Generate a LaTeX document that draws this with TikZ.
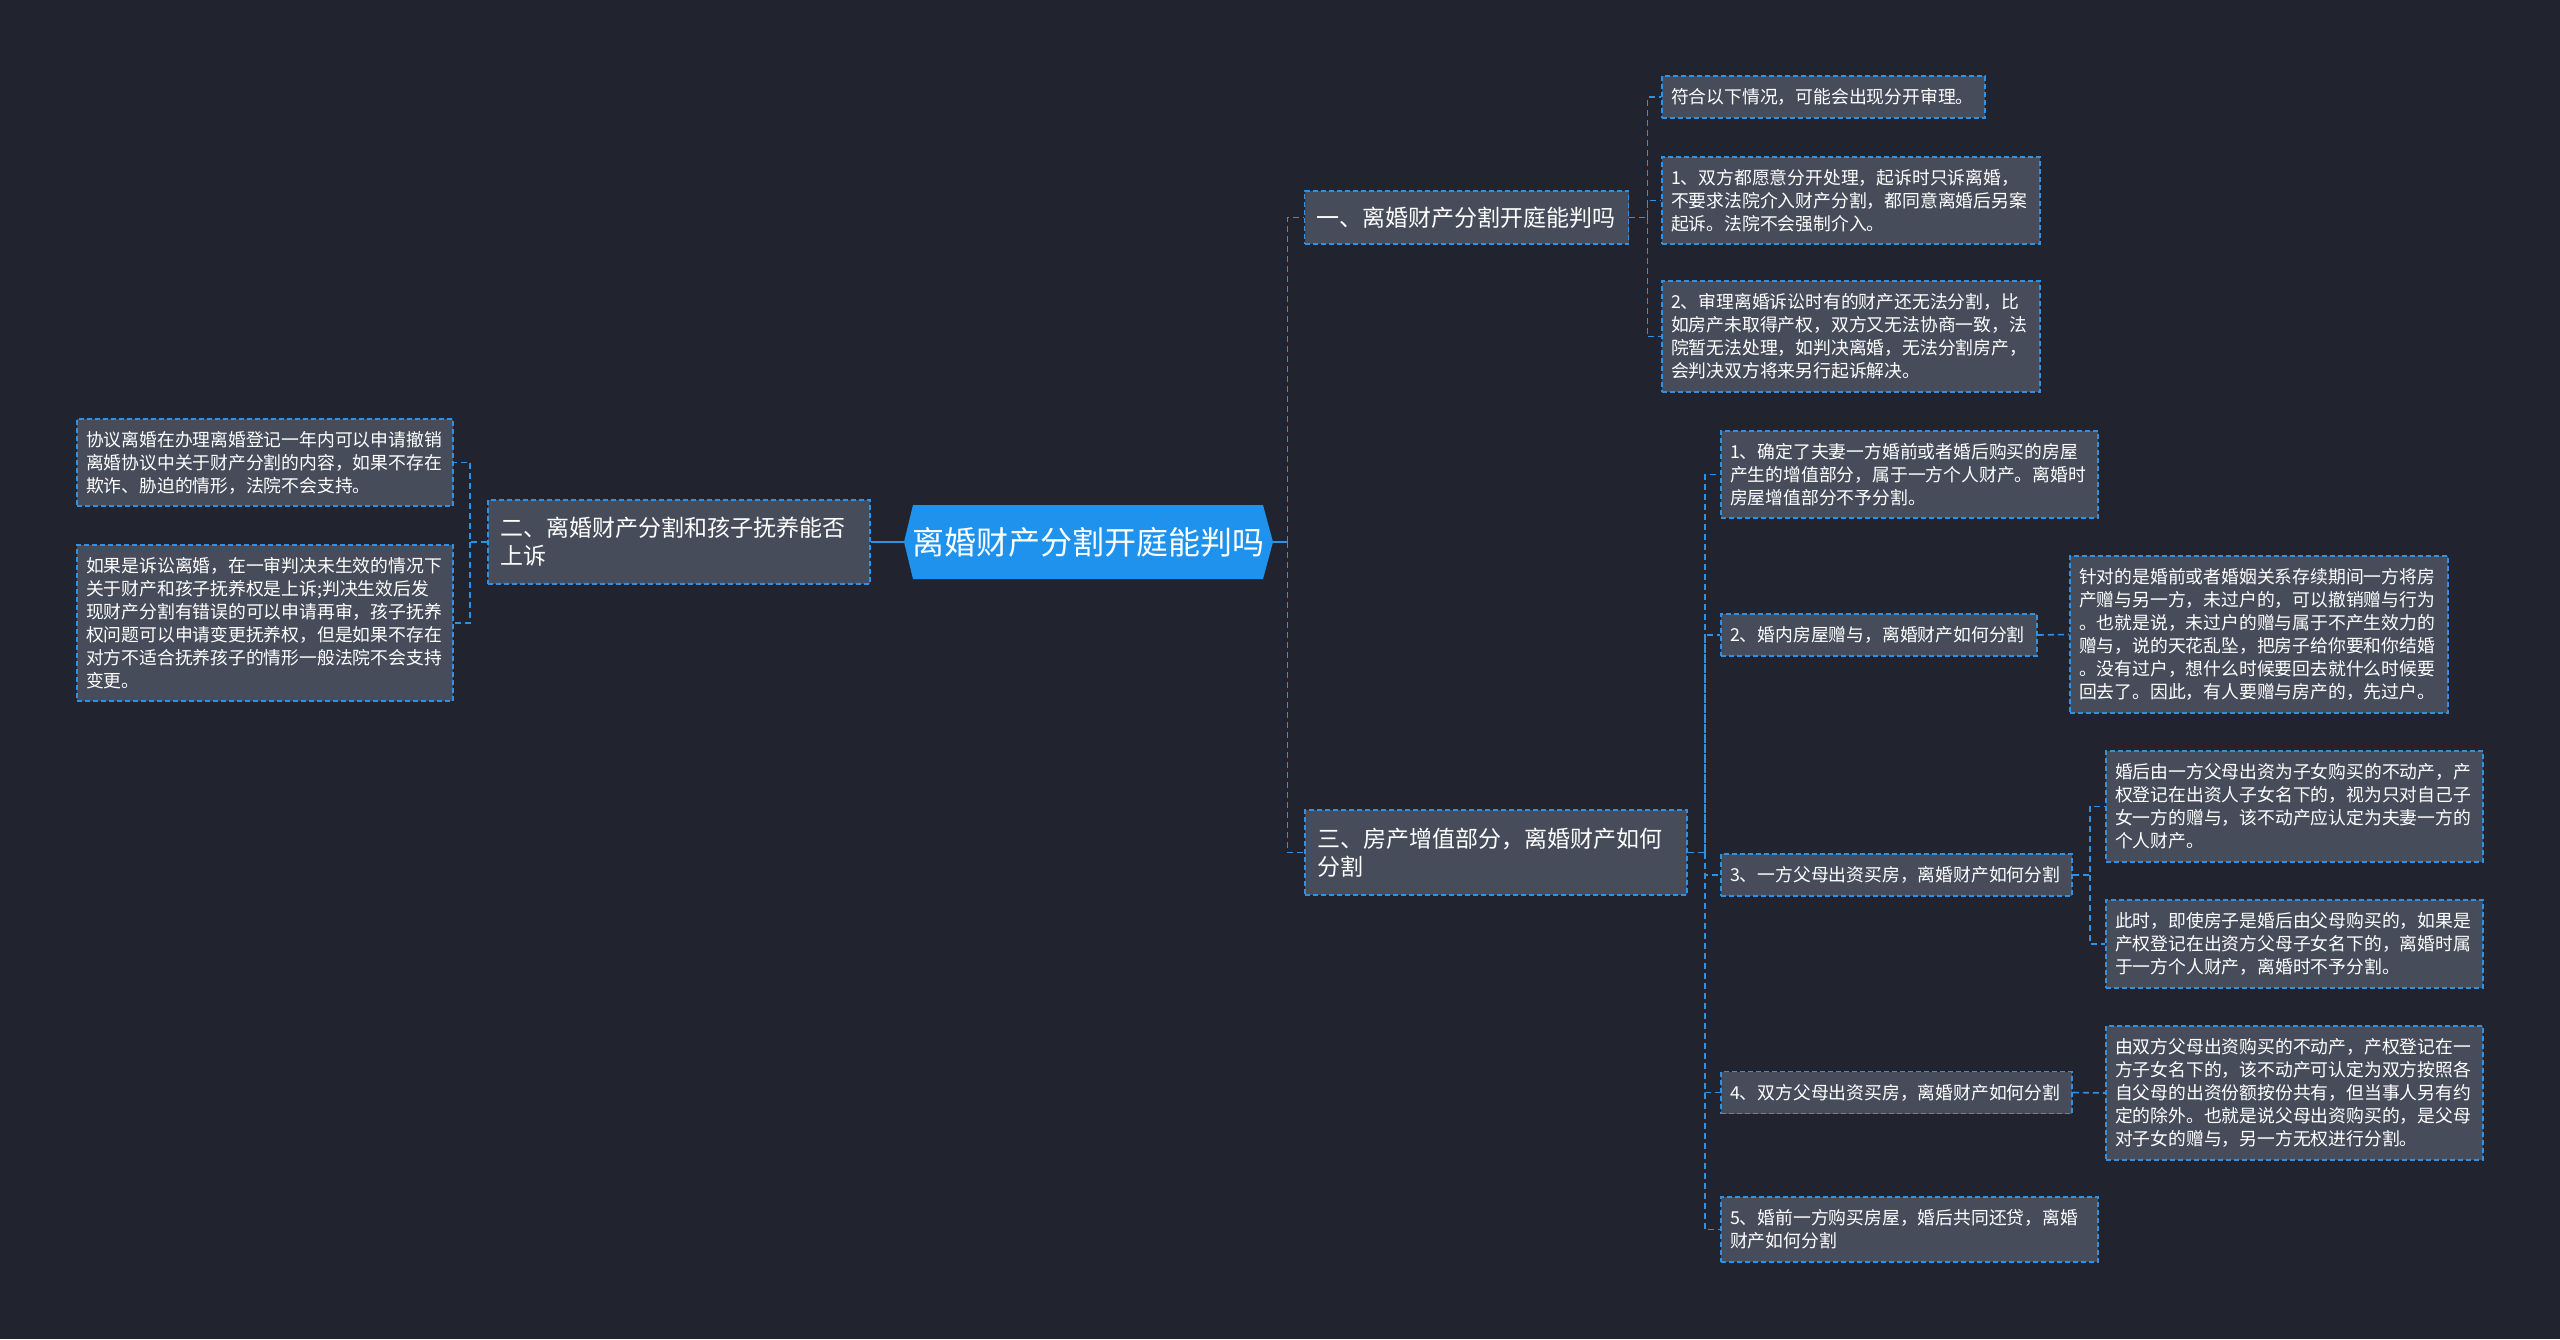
\documentclass[tikz,border=0pt]{standalone}
\usepackage{fontspec}
\setmainfont{Noto Sans CJK SC}

\definecolor{bgnavy}{HTML}{21242F}
\definecolor{boxgray}{HTML}{474C5B}
\definecolor{edgeblue}{HTML}{2D91E6}
\definecolor{rootblue}{HTML}{1F92EE}

\tikzset{
  box/.style={draw=edgeblue, line width=0.9pt, dash pattern=on 2.5pt off 1.5pt,
    fill=boxgray, text=white, align=left, inner ysep=0pt},
  leaf/.style={box, inner xsep=4.5pt, font=\fontsize{8.9pt}{11.5pt}\selectfont},
  branch/.style={box, inner xsep=6pt, font=\fontsize{11.5pt}{14pt}\selectfont},
  link/.style={draw=edgeblue, line width=0.8pt, dash pattern=on 3pt off 2pt},
  rootlink/.style={draw=edgeblue, line width=1.2pt},
}

\begin{document}
\begin{tikzpicture}[x=0.5pt, y=-0.5pt]
        \fill[bgnavy] (0,0) rectangle (2560,1339);

        % centre topic
        \fill[rootblue] (904,542) -- (913,505) -- (1263,505) -- (1273,542)
              -- (1263,579) -- (913,579) -- cycle;
        \node[text=white, minimum width=184.5pt, minimum height=37pt, inner sep=0pt,
              font=\fontsize{16pt}{20pt}\selectfont] (root) at (1088.5,542) {离婚财产分割开庭能判吗};

        % branches
        \node[branch, text width=150pt, minimum height=26.5pt] (b1) at (1466.5,217.5)
              {一、离婚财产分割开庭能判吗};
        \node[branch, text width=179pt, minimum height=42pt] (b2) at (679,542)
              {二、离婚财产分割和孩子抚养能否\\上诉};
        \node[branch, text width=179pt, minimum height=42.5pt] (b3) at (1496,852.5)
              {三、房产增值部分，离婚财产如何\\分割};

        % first branch
        \node[leaf, text width=152.5pt, minimum height=21pt] (l10) at (1823.5,97)
              {符合以下情况，可能会出现分开审理。};
        \node[leaf, text width=180pt, minimum height=43.5pt] (l11) at (1851,200.5)
              {1、双方都愿意分开处理，起诉时只诉离婚，\\不要求法院介入财产分割，都同意离婚后另案\\起诉。法院不会强制介入。};
        \node[leaf, text width=180pt, minimum height=55.5pt] (l12) at (1851,336.5)
              {2、审理离婚诉讼时有的财产还无法分割，比\\如房产未取得产权，双方又无法协商一致，法\\院暂无法处理，如判决离婚，无法分割房产，\\会判决双方将来另行起诉解决。};

        % second branch
        \node[leaf, text width=179pt, minimum height=43.5pt] (l20) at (265,462.5)
              {协议离婚在办理离婚登记一年内可以申请撤销\\离婚协议中关于财产分割的内容，如果不存在\\欺诈、胁迫的情形，法院不会支持。};
        \node[leaf, text width=179pt, minimum height=78pt] (l21) at (265,623)
              {如果是诉讼离婚，在一审判决未生效的情况下\\关于财产和孩子抚养权是上诉;判决生效后发\\现财产分割有错误的可以申请再审，孩子抚养\\权问题可以申请变更抚养权，但是如果不存在\\对方不适合抚养孩子的情形一般法院不会支持\\变更。};

        % third branch
        \node[leaf, text width=179.5pt, minimum height=43.5pt] (l30) at (1909.5,474.5)
              {1、确定了夫妻一方婚前或者婚后购买的房屋\\产生的增值部分，属于一方个人财产。离婚时\\房屋增值部分不予分割。};
        \node[leaf, text width=149pt, minimum height=21pt] (l31) at (1879,635)
              {2、婚内房屋赠与，离婚财产如何分割};
        \node[leaf, text width=166.5pt, minimum height=21pt] (l32) at (1896.5,875)
              {3、一方父母出资买房，离婚财产如何分割};
        \node[leaf, text width=166.5pt, minimum height=21pt] (l33) at (1896.5,1092.5)
              {4、双方父母出资买房，离婚财产如何分割};
        \node[leaf, text width=179.5pt, minimum height=32.5pt] (l34) at (1909.5,1229.5)
              {5、婚前一方购买房屋，婚后共同还贷，离婚\\财产如何分割};

        \node[leaf, text width=180pt, minimum height=78.5pt] (d31) at (2259,634.5)
              {针对的是婚前或者婚姻关系存续期间一方将房\\产赠与另一方，未过户的，可以撤销赠与行为\\。也就是说，未过户的赠与属于不产生效力的\\赠与，说的天花乱坠，把房子给你要和你结婚\\。没有过户，想什么时候要回去就什么时候要\\回去了。因此，有人要赠与房产的，先过户。};
        \node[leaf, text width=179.5pt, minimum height=55.5pt] (d32a) at (2294.5,806.5)
              {婚后由一方父母出资为子女购买的不动产，产\\权登记在出资人子女名下的，视为只对自己子\\女一方的赠与，该不动产应认定为夫妻一方的\\个人财产。};
        \node[leaf, text width=179.5pt, minimum height=44pt] (d32b) at (2294.5,944)
              {此时，即使房子是婚后由父母购买的，如果是\\产权登记在出资方父母子女名下的，离婚时属\\于一方个人财产，离婚时不予分割。};
        \node[leaf, text width=179.5pt, minimum height=67pt] (d33) at (2294.5,1093)
              {由双方父母出资购买的不动产，产权登记在一\\方子女名下的，该不动产可认定为双方按照各\\自父母的出资份额按份共有，但当事人另有约\\定的除外。也就是说父母出资购买的，是父母\\对子女的赠与，另一方无权进行分割。};

        % connectors
        \coordinate (j0) at ([xshift=7pt]root.east);
        \coordinate (j1) at ([xshift=9pt]b1.east);
        \coordinate (j2) at ([xshift=-8.5pt]b2.west);
        \coordinate (j3) at ([xshift=8.5pt]b3.east);
        \coordinate (j4) at ([xshift=8.5pt]l32.east);

        \draw[rootlink] (root.east) -- (j0);
        \draw[rootlink] (root.west) -- (b2.east);
        \draw[link] (j0) |- (b1.west);
        \draw[link] (j0) |- (b3.west);

        \draw[link] (b1.east) -- (j1) |- (l10.west);
        \draw[link] (j1) |- (l11.west);
        \draw[link] (j1) |- (l12.west);

        \draw[link] (b2.west) -- (j2) |- (l20.east);
        \draw[link] (j2) |- (l21.east);

        \draw[link] (b3.east) -- (j3) |- (l30.west);
        \draw[link] (j3) |- (l31.west);
        \draw[link] (j3) |- (l32.west);
        \draw[link] (j3) |- (l33.west);
        \draw[link] (j3) |- (l34.west);

        \draw[link] (l31.east) -- (d31.west);
        \draw[link] (l32.east) -- (j4) |- (d32a.west);
        \draw[link] (j4) |- (d32b.west);
        \draw[link] (l33.east) -- (d33.west);
    \end{tikzpicture}
\end{document}
